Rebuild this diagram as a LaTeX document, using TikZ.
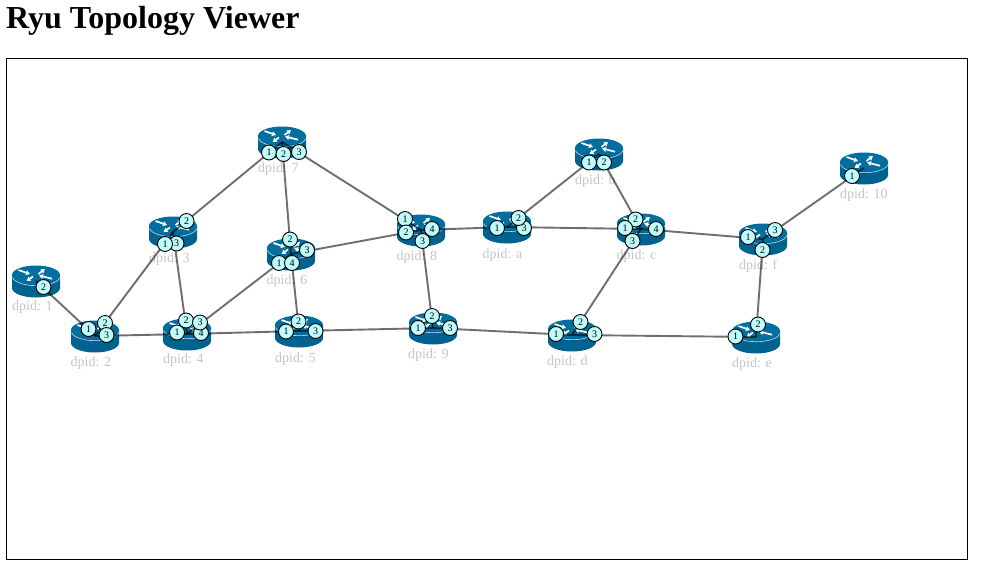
\documentclass[tikz,border=0pt]{standalone}
\usepackage{fontspec}
\usetikzlibrary{arrows.meta}
\setmainfont{Liberation Serif}
\definecolor{rbody}{HTML}{00628F}
\definecolor{rtop}{HTML}{006E9E}
\definecolor{lnk}{HTML}{6E6E6E}
\definecolor{lbl}{HTML}{C4C4C4}
\definecolor{prt}{HTML}{BFFBFB}
\tikzset{
  x=1pt,y=-1pt,
  anchorpt/.style={inner sep=0pt,minimum size=0pt},
  link/.style={draw=lnk,line width=1.9pt,blend mode=multiply},
  port/.style={circle,draw=black,line width=0.9pt,fill=prt,inner sep=0pt,minimum size=15pt,font=\fontsize{10}{10}\selectfont},
  dpid/.style={text=lbl,font=\fontsize{14}{14}\selectfont,inner sep=0pt},
  arrowmark/.style={draw=white,line width=1.7pt,-{Triangle[width=4.6pt,length=4pt]}},
}
\newcommand{\routerat}[5]{%
  \node[dpid,anchor=base west] (#3lab) at (#4,#5) {dpid: #3};
  \node[anchorpt] (#3) at (#1,#2) {};
  \begin{scope}[shift={(#1,#2)}]
    \fill[rbody] (-24,-6.5) -- (-24,7) arc[x radius=24,y radius=9.5,start angle=180,end angle=0] -- (24,-6.5) -- cycle;
    \fill[rtop] (0,-6) ellipse[x radius=24,y radius=9.5];
    \draw[white,line width=0.6pt,opacity=.8] (-23.5,-3.5) arc[x radius=24,y radius=9.5,start angle=172,end angle=8];
    \draw[arrowmark] (-17.5,-11) -- (-6,-7);
    \draw[arrowmark] (-3,-4.5) -- (-9.5,0);
    \draw[arrowmark] (2.5,-7) -- (9,-12);
    \draw[arrowmark] (16,-2.3) -- (3,-5.5);
  \end{scope}
}
\newcommand{\prt}[4]{\node[port] (#1p#2) at (#3,#4) {#2};}
\begin{document}
\begin{tikzpicture}
\useasboundingbox (0,0) rectangle (982,579);
\node[anchor=base west,inner sep=0pt,font=\fontsize{32}{32}\selectfont\bfseries] (title) at (6,28) {Ryu Topology Viewer};
\node[draw=black,line width=0.9pt,anchor=north west,inner sep=0pt,outer sep=0pt,minimum width=961pt,minimum height=501pt] (frame) at (6.5,58.5) {};
\routerat{36}{281}{1}{12}{310}
\routerat{95}{336}{2}{70.5}{366}
\routerat{173}{232}{3}{149}{262}
\routerat{187}{334}{4}{163}{363}
\routerat{299}{331}{5}{275}{362}
\routerat{291}{254}{6}{266.5}{284}
\routerat{282}{142}{7}{258}{172}
\routerat{421}{230}{8}{396.5}{260}
\routerat{433}{328}{9}{408}{358}
\routerat{507}{227}{a}{482.5}{258}
\routerat{599}{154}{b}{575}{184}
\routerat{641}{229}{c}{616.5}{259}
\routerat{572}{335}{d}{547}{365}
\routerat{756}{337}{e}{732}{367}
\routerat{763}{239}{f}{739}{269}
\routerat{864}{168}{10}{840}{198}
\foreach \a/\b in {1/2,2/3,2/4,3/4,3/7,4/5,4/6,5/6,5/9,6/7,6/8,7/8,8/9,8/a,a/b,a/c,b/c,c/d,c/f,9/d,d/e,e/f,f/10}
  \draw[link] (\a.center) -- (\b.center);
\prt{1}{2}{43.5}{287}
\prt{2}{2}{105}{323}\prt{2}{1}{88.5}{329}\prt{2}{3}{106.5}{335}
\prt{3}{2}{186.5}{221}\prt{3}{3}{176.5}{243.5}\prt{3}{1}{165}{244}
\prt{4}{4}{201}{333}\prt{4}{1}{177}{332.5}\prt{4}{2}{186}{320.5}\prt{4}{3}{200}{322.5}
\prt{5}{1}{286}{331.5}\prt{5}{2}{298.5}{321.5}\prt{5}{3}{315.5}{331}
\prt{6}{2}{290}{239.5}\prt{6}{3}{307}{250}\prt{6}{1}{279}{263}\prt{6}{4}{292}{263}
\prt{7}{1}{269}{152.5}\prt{7}{3}{299}{152}\prt{7}{2}{283.5}{154}
\prt{8}{1}{405}{219}\prt{8}{2}{406}{232.5}\prt{8}{4}{432}{229}\prt{8}{3}{422.5}{241}
\prt{9}{2}{432}{316}\prt{9}{1}{418}{328}\prt{9}{3}{450}{328}
\prt{a}{3}{524}{228}\prt{a}{1}{497}{228}\prt{a}{2}{518.5}{218}
\prt{b}{1}{589}{162.5}\prt{b}{2}{604}{162.5}
\prt{c}{2}{635.5}{219.5}\prt{c}{1}{625}{228}\prt{c}{4}{656}{229}\prt{c}{3}{632.5}{241}
\prt{d}{2}{580.5}{322}\prt{d}{1}{556}{334}\prt{d}{3}{594.5}{334}
\prt{e}{2}{758}{324.5}\prt{e}{1}{735.5}{336.5}
\prt{f}{3}{775}{230}\prt{f}{1}{748}{237}\prt{f}{2}{762.5}{250}
\prt{10}{1}{852}{176}
\end{tikzpicture}
\end{document}
